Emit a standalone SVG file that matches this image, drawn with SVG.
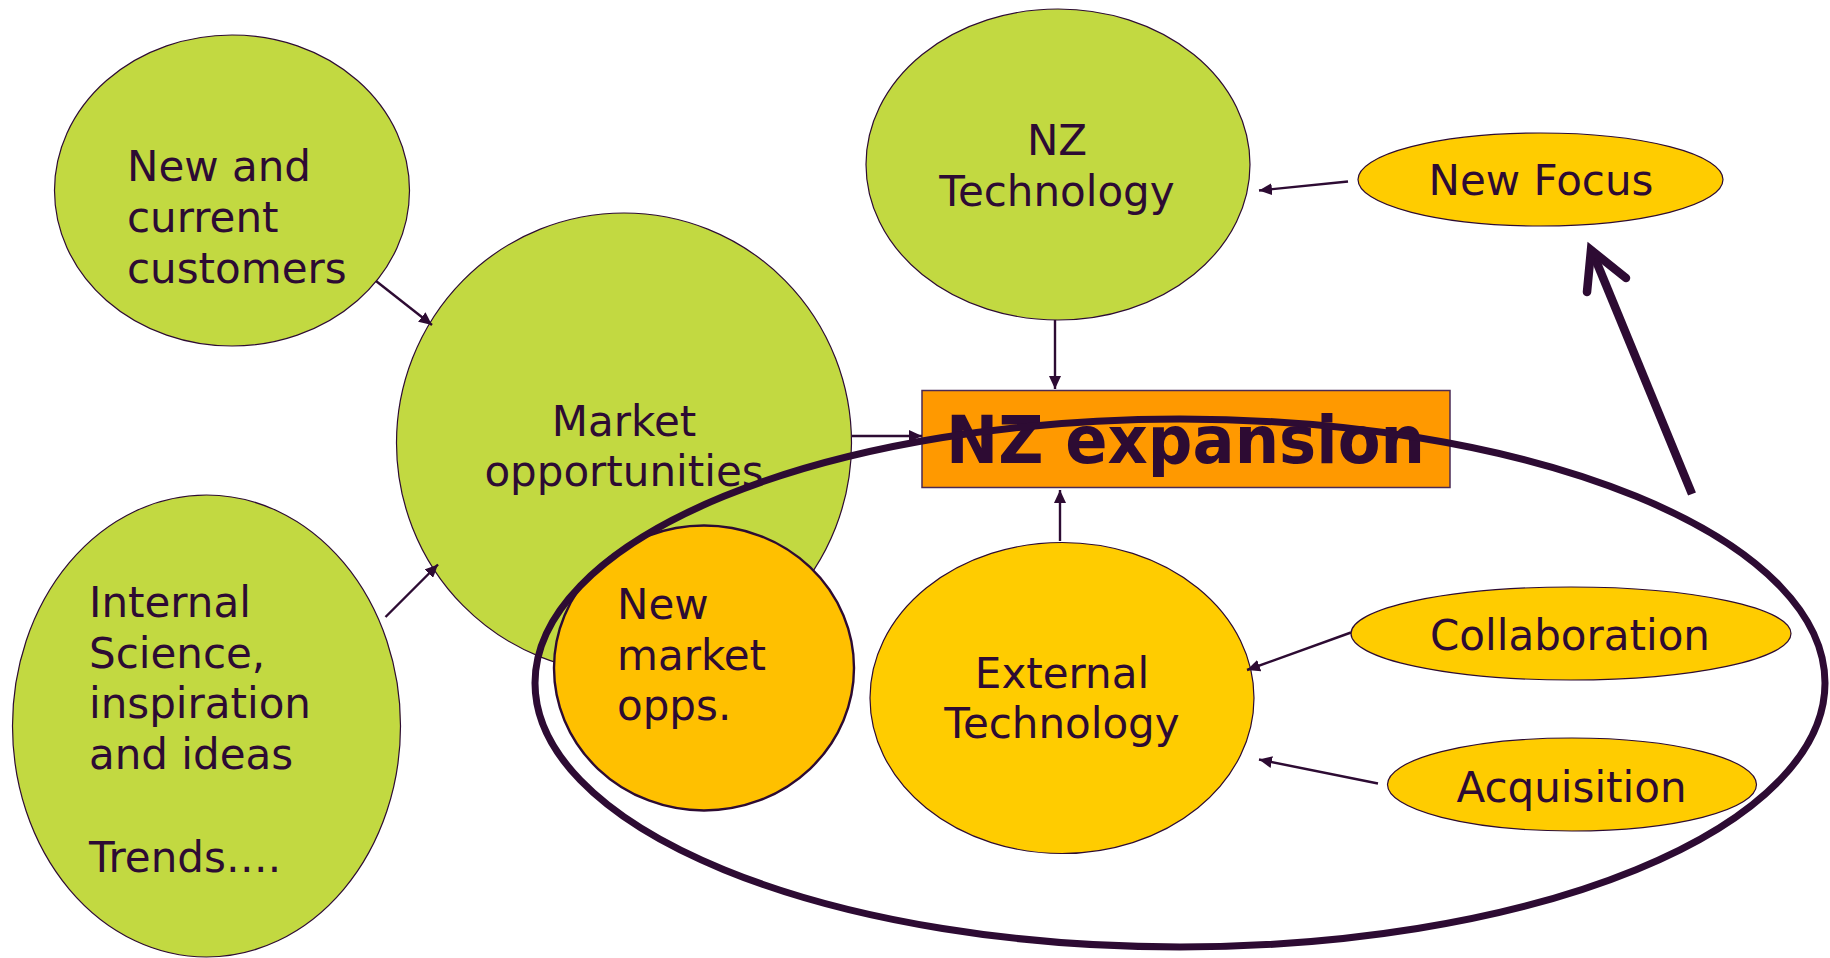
<svg xmlns="http://www.w3.org/2000/svg" width="1830" height="958" viewBox="0 0 1830 958">
  <style>
    .lbl { font-family: "DejaVu Sans", Verdana, "Liberation Sans", sans-serif; font-size: 42px; fill: #2D0B33; }
    .mid { text-anchor: middle; }
    .green { fill: #C2D941; stroke: #2D0B33; stroke-width: 1.2; }
    .yellow { fill: #FFCC00; stroke: #2D0B33; stroke-width: 1.2; }
    .amber { fill: #FFC000; stroke: #2D0B33; stroke-width: 2.4; }
    .conn { stroke: #2D0B33; stroke-width: 2.4; fill: none; marker-end: url(#head); }
    .heavy { stroke: #2D0B33; stroke-width: 8.5; fill: none; }
  </style>
  <defs>
    <marker id="head" markerUnits="userSpaceOnUse" markerWidth="14" markerHeight="12" refX="13" refY="6" orient="auto">
      <path d="M0,0 L13,6 L0,12 z" fill="#2D0B33"/>
    </marker>
  </defs>

  <rect width="1830" height="958" fill="#FFFFFF"/>

  <!-- left-hand sources -->
  <g id="node-customers">
    <ellipse class="green" cx="232" cy="190.5" rx="177.5" ry="155.5"/>
    <text class="lbl" x="127" y="181">New and</text>
    <text class="lbl" x="127" y="232">current</text>
    <text class="lbl" x="127" y="283">customers</text>
  </g>

  <g id="node-internal">
    <ellipse class="green" cx="206.5" cy="726" rx="194" ry="231"/>
    <text class="lbl" x="89" y="617">Internal</text>
    <text class="lbl" x="89" y="668">Science,</text>
    <text class="lbl" x="89" y="718">inspiration</text>
    <text class="lbl" x="89" y="769">and ideas</text>
    <text class="lbl" x="89" y="872">Trends….</text>
  </g>

  <g id="node-market">
    <ellipse class="green" cx="624" cy="443" rx="227.5" ry="230"/>
    <text class="lbl mid" x="624" y="436">Market</text>
    <text class="lbl mid" x="624" y="486">opportunities</text>
  </g>

  <g id="node-new-market">
    <ellipse class="amber" cx="704" cy="668" rx="150" ry="142.5"/>
    <text class="lbl" x="617" y="619">New</text>
    <text class="lbl" x="617" y="670">market</text>
    <text class="lbl" x="617" y="720">opps.</text>
  </g>

  <!-- technology side -->
  <g id="node-nz-technology">
    <ellipse class="green" cx="1058" cy="164.5" rx="192" ry="155.5"/>
    <text class="lbl mid" x="1057" y="155">NZ</text>
    <text class="lbl mid" x="1057" y="206">Technology</text>
  </g>

  <g id="node-nz-expansion">
    <rect x="922" y="390.5" width="528" height="97" fill="#FF9900" stroke="#4A2A55" stroke-width="1.5"/>
    <text x="946" y="463" textLength="479" lengthAdjust="spacingAndGlyphs" style="font-family: 'DejaVu Sans', Verdana, sans-serif; font-size: 65px; font-weight: bold; fill: #2D0B33;">NZ expansion</text>
  </g>

  <g id="node-external-technology">
    <ellipse class="yellow" cx="1062" cy="698" rx="192" ry="155.5"/>
    <text class="lbl mid" x="1062" y="688">External</text>
    <text class="lbl mid" x="1062" y="738">Technology</text>
  </g>

  <g id="node-new-focus">
    <ellipse class="yellow" cx="1540.5" cy="179.5" rx="182.5" ry="46.5"/>
    <text class="lbl mid" x="1541" y="195">New Focus</text>
  </g>

  <g id="node-collaboration">
    <ellipse class="yellow" cx="1571" cy="633.5" rx="220" ry="46.5"/>
    <text class="lbl mid" x="1570" y="650">Collaboration</text>
  </g>

  <g id="node-acquisition">
    <ellipse class="yellow" cx="1572" cy="784.5" rx="184.5" ry="46.5"/>
    <text class="lbl mid" x="1571.5" y="802">Acquisition</text>
  </g>

  <!-- loop enclosing the opportunity and external-technology area -->
  <g id="loop">
    <ellipse cx="1180" cy="683" rx="645" ry="264" fill="none" stroke="#2D0B33" stroke-width="7"/>
  </g>

  <g id="connectors">
    <line class="conn" x1="376" y1="281" x2="432" y2="325"/>
    <line class="conn" x1="385.5" y1="617" x2="438" y2="564.5"/>
    <line class="conn" x1="852" y1="436" x2="922" y2="436"/>
    <line class="conn" x1="1055" y1="320" x2="1055" y2="389"/>
    <line class="conn" x1="1060" y1="541" x2="1060" y2="490"/>
    <line class="conn" x1="1348" y1="181.5" x2="1259" y2="190.5"/>
    <line class="conn" x1="1351" y1="632.5" x2="1247" y2="670"/>
    <line class="conn" x1="1378" y1="783.5" x2="1259" y2="759.5"/>
    <!-- heavy arrow from the loop up to New Focus -->
    <line class="heavy" x1="1692" y1="494" x2="1592" y2="251"/>
    <path class="heavy" d="M1587,292 L1591,250 L1626,278" stroke-linecap="round" stroke-linejoin="miter" stroke-miterlimit="6"/>
  </g>
</svg>
